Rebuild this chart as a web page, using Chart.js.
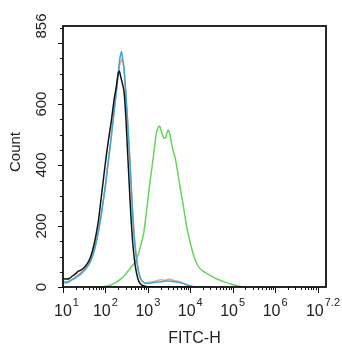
<!DOCTYPE html>
<html>
<head>
<meta charset="utf-8">
<script src="https://cdn.jsdelivr.net/npm/chart.js@4.4.1/dist/chart.umd.min.js"></script>
<style>
  html, body { margin: 0; padding: 0; background: #fff; }
  canvas { display: block; }
</style>
</head>
<body>
<canvas id="histogram" width="342" height="350"></canvas>
<script>
// FITC-H histograms, x given as log10 of the channel value
const blackLog = [1.00, 1.08, 1.15, 1.22, 1.30, 1.36, 1.42, 1.50, 1.58, 1.65, 1.72, 1.78, 1.84, 1.90, 1.96, 2.02, 2.08, 2.14, 2.20, 2.26, 2.30, 2.33, 2.36, 2.40, 2.44, 2.48, 2.52, 2.56, 2.60, 2.64, 2.68, 2.72, 2.76, 2.80, 2.86, 2.95, 3.05, 3.30, 3.60, 4.00];
const blackCount = [27, 26, 28, 36, 44, 52, 55, 64, 78, 98, 132, 172, 222, 292, 362, 430, 490, 545, 610, 660, 700, 708, 690, 668, 640, 560, 450, 340, 235, 150, 95, 55, 30, 15, 6, 2, 1, 1, 0, 0];

const blueLog = [1.00, 1.08, 1.15, 1.22, 1.30, 1.38, 1.46, 1.54, 1.62, 1.70, 1.76, 1.82, 1.88, 1.94, 2.00, 2.06, 2.12, 2.18, 2.24, 2.30, 2.34, 2.38, 2.41, 2.44, 2.48, 2.52, 2.56, 2.60, 2.64, 2.68, 2.72, 2.76, 2.80, 2.86, 2.94, 3.05, 3.15, 3.25, 3.35, 3.45, 3.55, 3.65, 3.75, 3.85, 3.95, 4.05, 4.15, 4.50];
const blueCount = [15, 14, 18, 24, 30, 38, 48, 60, 76, 102, 132, 170, 215, 272, 335, 405, 470, 545, 620, 700, 750, 772, 745, 720, 640, 550, 455, 350, 240, 160, 105, 65, 38, 20, 12, 12, 15, 16, 18, 20, 19, 17, 15, 11, 6, 2, 0, 0];

const orangeLog = [1.00, 1.10, 1.20, 1.30, 1.40, 1.50, 1.60, 1.70, 1.80, 1.90, 2.00, 2.10, 2.20, 2.28, 2.34, 2.39, 2.43, 2.48, 2.53, 2.58, 2.63, 2.68, 2.73, 2.78, 2.84, 2.92, 3.05, 3.20, 3.30, 3.40, 3.50, 3.60, 3.70, 3.80, 3.90, 4.00, 4.10, 4.50];
const orangeCount = [18, 17, 24, 33, 44, 58, 76, 104, 160, 240, 330, 450, 570, 670, 730, 748, 720, 630, 530, 410, 280, 170, 100, 55, 25, 14, 16, 20, 24, 22, 26, 22, 19, 14, 8, 3, 0, 0];

const greenLog = [1.80, 1.95, 2.05, 2.15, 2.25, 2.35, 2.45, 2.55, 2.65, 2.72, 2.78, 2.84, 2.90, 2.95, 3.00, 3.05, 3.10, 3.15, 3.20, 3.25, 3.28, 3.32, 3.37, 3.41, 3.45, 3.48, 3.52, 3.56, 3.60, 3.65, 3.70, 3.75, 3.80, 3.85, 3.90, 3.95, 4.00, 4.05, 4.10, 4.15, 4.22, 4.30, 4.40, 4.50, 4.60, 4.70, 4.80, 4.90, 5.00, 5.10, 5.20, 5.30];
const greenCount = [0, 1, 3, 8, 15, 25, 38, 55, 72, 86, 110, 140, 175, 225, 285, 345, 395, 450, 505, 525, 528, 510, 490, 488, 505, 515, 500, 470, 445, 420, 380, 335, 295, 255, 210, 175, 145, 118, 95, 78, 62, 52, 44, 36, 28, 22, 17, 12, 8, 4, 1, 0];

// axis ranges and tick labels
const yMax = 856;
const yTickValues = [0, 200, 400, 600, 856];
const xMinExp = 1;
const xMaxExp = 7.2;
const xTickExps = ['1', '2', '3', '4', '5', '6', '7.2'];

const FONT = '"Liberation Sans", Arial, sans-serif';

function toPoints(logs, counts) {
    return logs.map((e, i) => ({ x: Math.pow(10, e), y: counts[i] }));
}

// frame, ticks and labels in the cytometer style (rotated y labels, 10^n x labels)
const cytoAxes = {
    id: 'cytoAxes',
    afterDraw(chart) {
        const { ctx, chartArea: a, scales } = chart;
        const x = scales.x, y = scales.y;
        ctx.save();

        ctx.strokeStyle = '#111';
        ctx.lineWidth = 1;
        ctx.beginPath();
        for (let v = 0; v < yMax; v += 50) {
            const py = Math.round(y.getPixelForValue(v)) + 0.5;
            const len = v % 200 === 0 ? 5 : 3;
            ctx.moveTo(a.left, py);
            ctx.lineTo(a.left - len, py);
        }
        for (let d = xMinExp; d <= 7; d++) {
            for (let m = 1; m <= 9; m++) {
                const v = m * Math.pow(10, d);
                if (v > x.max) break;
                const px = Math.round(x.getPixelForValue(v)) + 0.5;
                const len = m === 1 ? 6 : 3;
                ctx.moveTo(px, a.bottom);
                ctx.lineTo(px, a.bottom + len);
            }
        }
        ctx.stroke();

        ctx.lineWidth = 1.8;
        ctx.strokeRect(a.left, a.top, a.right - a.left, a.bottom - a.top);

        ctx.fillStyle = '#222';

        // y tick labels, rotated
        ctx.font = '15px ' + FONT;
        ctx.textAlign = 'center';
        ctx.textBaseline = 'middle';
        yTickValues.forEach(v => {
            ctx.save();
            ctx.translate(42, y.getPixelForValue(v));
            ctx.rotate(-Math.PI / 2);
            ctx.fillText(String(v), 0, 0);
            ctx.restore();
        });

        // y title
        ctx.save();
        ctx.font = '15px ' + FONT;
        ctx.translate(16, 152);
        ctx.rotate(-Math.PI / 2);
        ctx.fillText('Count', 0, 0);
        ctx.restore();

        // x tick labels with superscript exponents
        ctx.textAlign = 'left';
        ctx.textBaseline = 'alphabetic';
        const baseFont = '16px ' + FONT;
        const supFont = '11px ' + FONT;
        xTickExps.forEach(exp => {
            const px = x.getPixelForValue(Math.pow(10, parseFloat(exp)));
            ctx.font = baseFont;
            const wBase = ctx.measureText('10').width;
            ctx.font = supFont;
            const wSup = ctx.measureText(exp).width;
            const w = wBase + wSup + 1;
            let left = px - w / 2;
            left = Math.max(54, Math.min(left, 340 - w));
            ctx.font = baseFont;
            ctx.fillText('10', left, 316);
            ctx.font = supFont;
            ctx.fillText(exp, left + wBase + 1, 306);
        });

        // x title
        ctx.font = '16px ' + FONT;
        ctx.textAlign = 'center';
        ctx.fillText('FITC-H', (a.left + a.right) / 2, 343);

        ctx.restore();
    }
};

const histogram = new Chart(document.getElementById('histogram'), {
    type: 'line',
    data: {
        datasets: [
            { label: 'black', data: toPoints(blackLog, blackCount), borderColor: '#141414' },
            { label: 'blue', data: toPoints(blueLog, blueCount), borderColor: '#3fa6d6' },
            { label: 'orange', data: toPoints(orangeLog, orangeCount), borderColor: '#e9a877' },
            { label: 'green', data: toPoints(greenLog, greenCount), borderColor: '#66d65a' }
        ]
    },
    options: {
        responsive: false,
        animation: false,
        devicePixelRatio: 1,
        layout: { padding: { left: 63, top: 26, right: 16, bottom: 63 } },
        elements: {
            line: { borderWidth: 1.5, tension: 0.15, fill: false },
            point: { radius: 0 }
        },
        scales: {
            x: { type: 'logarithmic', min: Math.pow(10, xMinExp), max: Math.pow(10, xMaxExp), display: false },
            y: { type: 'linear', min: 0, max: yMax, display: false }
        },
        plugins: {
            legend: { display: false },
            tooltip: { enabled: false }
        }
    },
    plugins: [cytoAxes]
});
</script>
</body>
</html>
